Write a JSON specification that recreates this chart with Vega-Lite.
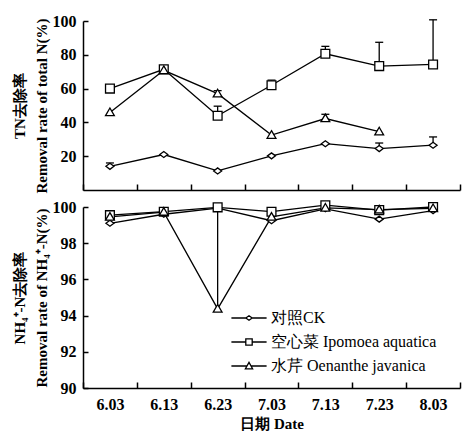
{
  "$schema": "https://vega.github.io/schema/vega-lite/v6.json",
  "padding": {"left": 12, "top": 13, "right": 5, "bottom": 0},
  "bounds": "flush",
  "spacing": 17,
  "background": "white",
  "config": {
    "font": "Liberation Serif",
    "view": {"stroke": null},
    "axis": {
      "labelFont": "Liberation Serif", "labelFontSize": 16, "labelFontWeight": "bold", "labelColor": "black",
      "domainColor": "black", "domainWidth": 1.5, "tickColor": "black", "tickWidth": 1.5, "grid": false,
      "titleFont": "Liberation Serif", "titleFontSize": 15, "titleFontWeight": "bold", "titleColor": "black"
    }
  },
  "datasets": {
    "tn": [
      {"date": "6.03", "series": "对照CK", "value": 14},
      {"date": "6.13", "series": "对照CK", "value": 21},
      {"date": "6.23", "series": "对照CK", "value": 11.3},
      {"date": "7.03", "series": "对照CK", "value": 20.2},
      {"date": "7.13", "series": "对照CK", "value": 27.4},
      {"date": "7.23", "series": "对照CK", "value": 24.5},
      {"date": "8.03", "series": "对照CK", "value": 26.5},
      {"date": "6.03", "series": "空心菜 Ipomoea aquatica", "value": 60},
      {"date": "6.13", "series": "空心菜 Ipomoea aquatica", "value": 71.4},
      {"date": "6.23", "series": "空心菜 Ipomoea aquatica", "value": 43.9},
      {"date": "7.03", "series": "空心菜 Ipomoea aquatica", "value": 62},
      {"date": "7.13", "series": "空心菜 Ipomoea aquatica", "value": 80.6},
      {"date": "7.23", "series": "空心菜 Ipomoea aquatica", "value": 73.3},
      {"date": "8.03", "series": "空心菜 Ipomoea aquatica", "value": 74.3},
      {"date": "6.03", "series": "水芹 Oenanthe javanica", "value": 45.9},
      {"date": "6.13", "series": "水芹 Oenanthe javanica", "value": 70.8},
      {"date": "6.23", "series": "水芹 Oenanthe javanica", "value": 57},
      {"date": "7.03", "series": "水芹 Oenanthe javanica", "value": 32.5},
      {"date": "7.13", "series": "水芹 Oenanthe javanica", "value": 42.3},
      {"date": "7.23", "series": "水芹 Oenanthe javanica", "value": 34.5}
    ],
    "tnerr": [
      {"date": "6.03", "series": "对照CK", "value": 14, "upper": 16},
      {"date": "7.23", "series": "对照CK", "value": 24.5, "upper": 27.8},
      {"date": "8.03", "series": "对照CK", "value": 26.5, "upper": 31.4},
      {"date": "6.23", "series": "空心菜 Ipomoea aquatica", "value": 43.9, "upper": 49.6},
      {"date": "7.03", "series": "空心菜 Ipomoea aquatica", "value": 62, "upper": 65},
      {"date": "7.13", "series": "空心菜 Ipomoea aquatica", "value": 80.6, "upper": 85},
      {"date": "7.23", "series": "空心菜 Ipomoea aquatica", "value": 73.3, "upper": 87.4},
      {"date": "8.03", "series": "空心菜 Ipomoea aquatica", "value": 74.3, "upper": 100.7},
      {"date": "6.23", "series": "水芹 Oenanthe javanica", "value": 57, "upper": 58.8},
      {"date": "7.13", "series": "水芹 Oenanthe javanica", "value": 42.3, "upper": 44.8}
    ],
    "nh": [
      {"date": "6.03", "series": "对照CK", "value": 99.1},
      {"date": "6.13", "series": "对照CK", "value": 99.6},
      {"date": "6.23", "series": "对照CK", "value": 99.94},
      {"date": "7.03", "series": "对照CK", "value": 99.24},
      {"date": "7.13", "series": "对照CK", "value": 99.9},
      {"date": "7.23", "series": "对照CK", "value": 99.33},
      {"date": "8.03", "series": "对照CK", "value": 99.8},
      {"date": "6.03", "series": "空心菜 Ipomoea aquatica", "value": 99.55},
      {"date": "6.13", "series": "空心菜 Ipomoea aquatica", "value": 99.74},
      {"date": "6.23", "series": "空心菜 Ipomoea aquatica", "value": 99.98},
      {"date": "7.03", "series": "空心菜 Ipomoea aquatica", "value": 99.74},
      {"date": "7.13", "series": "空心菜 Ipomoea aquatica", "value": 100.1},
      {"date": "7.23", "series": "空心菜 Ipomoea aquatica", "value": 99.83},
      {"date": "8.03", "series": "空心菜 Ipomoea aquatica", "value": 100.0},
      {"date": "6.03", "series": "水芹 Oenanthe javanica", "value": 99.45},
      {"date": "6.13", "series": "水芹 Oenanthe javanica", "value": 99.72},
      {"date": "6.23", "series": "水芹 Oenanthe javanica", "value": 94.37},
      {"date": "7.03", "series": "水芹 Oenanthe javanica", "value": 99.45},
      {"date": "7.13", "series": "水芹 Oenanthe javanica", "value": 99.95},
      {"date": "7.23", "series": "水芹 Oenanthe javanica", "value": 99.85},
      {"date": "8.03", "series": "水芹 Oenanthe javanica", "value": 99.92}
    ],
    "nherr": [
      {"date": "6.23", "series": "水芹 Oenanthe javanica", "value": 94.37, "upper": 99.9}
    ]
  },
  "resolve": {"scale": {"shape": "independent", "stroke": "independent"}, "legend": {"shape": "independent", "stroke": "independent"}},
  "vconcat": [
    {
      "width": 377,
      "height": 169,
      "encoding": {
        "x": {
          "field": "date", "type": "ordinal",
          "scale": {"type": "band", "paddingInner": 0, "paddingOuter": 0, "domain": ["6.03", "6.13", "6.23", "7.03", "7.13", "7.23", "8.03"]},
          "axis": {"labels": false, "title": null, "tickBand": "extent", "tickSize": -6}
        }
      },
      "layer": [
        {
          "data": {"name": "tn"},
          "mark": {"type": "line", "color": "black", "strokeWidth": 1.3},
          "encoding": {
            "y": {"field": "value", "type": "quantitative", "scale": {"domain": [0, 100], "nice": false},
              "axis": {"values": [20, 40, 60, 80, 100], "tickCount": 10, "tickSize": -5, "labelPadding": 12, "labelOverlap": false,
                "title": ["TN去除率", "Removal rate of total N(%)"], "titleLineHeight": 22, "titlePadding": 3}},
            "detail": {"field": "series"}
          }
        },
        {
          "data": {"name": "tnerr"},
          "mark": {"type": "rule", "color": "black", "strokeWidth": 1.3},
          "encoding": {"y": {"field": "value", "type": "quantitative"}, "y2": {"field": "upper"}}
        },
        {
          "data": {"name": "tnerr"},
          "mark": {"type": "tick", "color": "black", "thickness": 1.3, "size": 8, "opacity": 1},
          "encoding": {"y": {"field": "upper", "type": "quantitative"}}
        },
        {
          "data": {"name": "tn"},
          "mark": {"type": "point", "filled": true, "fill": "white", "stroke": "black", "strokeWidth": 1.3, "opacity": 1, "size": 64},
          "encoding": {
            "y": {"field": "value", "type": "quantitative"},
            "shape": {"field": "series", "type": "nominal",
              "scale": {"domain": ["对照CK", "空心菜 Ipomoea aquatica", "水芹 Oenanthe javanica"],
                "range": ["M-1,0L0,-0.75L1,0L0,0.75Z", "M-1.1,-1.1H1.1V1.1H-1.1Z", "M0,-1.1L1.1,0.8L-1.1,0.8Z"]},
              "legend": null}
          }
        }
      ]
    },
    {
      "width": 377,
      "height": 181,
      "encoding": {
        "x": {
          "field": "date", "type": "ordinal",
          "scale": {"type": "band", "paddingInner": 0, "paddingOuter": 0, "domain": ["6.03", "6.13", "6.23", "7.03", "7.13", "7.23", "8.03"]},
          "axis": {"labelAngle": 0, "tickBand": "extent", "tickSize": -6, "labelPadding": 14, "title": "日期 Date", "titleFontSize": 15, "titlePadding": 4}
        }
      },
      "layer": [
        {
          "data": {"name": "nh"},
          "mark": {"type": "line", "color": "black", "strokeWidth": 1.3},
          "encoding": {
            "y": {"field": "value", "type": "quantitative", "scale": {"domain": [90, 100], "nice": false},
              "axis": {"values": [90, 92, 94, 96, 98, 100], "tickCount": 10, "tickSize": -5, "labelPadding": 12, "labelOverlap": false,
                "title": ["NH₄⁺-N去除率", "Removal rate of NH₄⁺-N(%)"], "titleLineHeight": 22, "titlePadding": 3}},
            "detail": {"field": "series"}
          }
        },
        {
          "data": {"name": "nherr"},
          "mark": {"type": "rule", "color": "black", "strokeWidth": 1.3},
          "encoding": {"y": {"field": "value", "type": "quantitative"}, "y2": {"field": "upper"}}
        },
        {
          "data": {"name": "nh"},
          "mark": {"type": "point", "filled": true, "fill": "white", "strokeWidth": 1.3, "opacity": 1, "size": 64},
          "encoding": {
            "y": {"field": "value", "type": "quantitative"},
            "shape": {"field": "series", "type": "nominal",
              "scale": {"domain": ["对照CK", "空心菜 Ipomoea aquatica", "水芹 Oenanthe javanica"],
                "range": ["M-1,0L0,-0.75L1,0L0,0.75Z", "M-1.1,-1.1H1.1V1.1H-1.1Z", "M0,-1.1L1.1,0.8L-1.1,0.8Z"]},
              "legend": null},
            "stroke": {"field": "series", "type": "nominal", "sort": null,
              "scale": {"range": ["black", "black", "black"]},
              "legend": {
                "orient": "none", "legendX": 158, "legendY": 103, "title": null, "padding": 0,
                "labelFont": "Liberation Serif", "labelFontSize": 16, "labelColor": "black", "labelLimit": 400,
                "symbolSize": 64, "labelOffset": 14, "rowPadding": 8,
                "symbolFillColor": "white", "symbolStrokeWidth": 1.3, "symbolOpacity": 1,
                "symbolType": {"expr": "datum.value === '对照CK' ? 'M-4.4,0H-0.8M0.8,0H4.4M-0.8,0L0,-0.55L0.8,0L0,0.55Z' : datum.value === '空心菜 Ipomoea aquatica' ? 'M-4.4,0H-0.8M0.8,0H4.4M-0.8,-0.8H0.8V0.8H-0.8Z' : 'M-4.4,0H-0.5M0.5,0H4.4M0,-0.9L0.9,0.7L-0.9,0.7Z'"}
              }}
          }
        }
      ]
    }
  ]
}
